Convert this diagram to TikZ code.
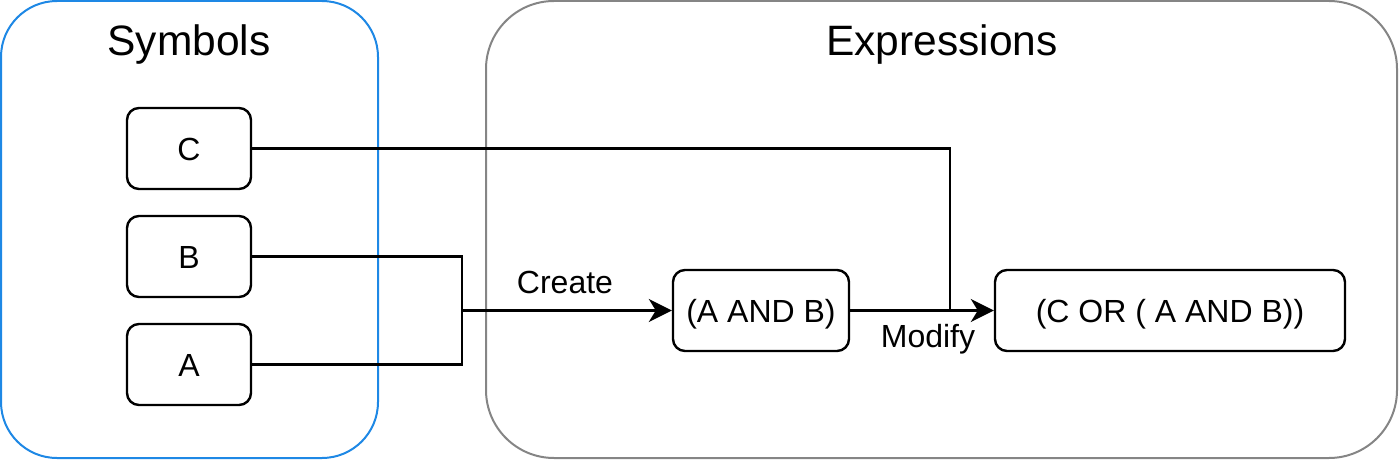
\documentclass[tikz,border=0pt]{standalone}
\usepackage{fontspec}
\setmainfont{Liberation Sans}
\usetikzlibrary{arrows.meta}
\definecolor{symblue}{HTML}{1E88E5}
\definecolor{exgray}{HTML}{858585}
\tikzset{
  container/.style={draw, line width=2pt, rounded corners=#1, inner sep=0pt},
  itembox/.style={draw=black, line width=2.4pt, rounded corners=12pt, minimum height=81pt,
    inner sep=0pt, text height=23pt, text depth=0pt, font=\fontsize{32}{38}\selectfont},
  titletext/.style={anchor=base, inner sep=0pt, font=\fontsize{42.5}{48}\selectfont},
  edgelabel/.style={anchor=base, inner sep=0pt, font=\fontsize{32}{38}\selectfont},
  conn/.style={line width=2.2pt, draw=black},
  arr/.style={conn, -{Stealth[length=23pt, width=23pt, inset=7pt]}}
}
\begin{document}
\begin{tikzpicture}[x=1pt, y=-1pt]
\useasboundingbox (0,0) rectangle (1400,460);
% containers
\node[container=56pt, draw=symblue, minimum width=377pt, minimum height=457pt] (sym) at (189.5,229.5) {};
\node[container=68pt, draw=exgray, minimum width=911pt, minimum height=457pt] (expr) at (941.5,229.5) {};
\node[titletext] (symtitle) at (189,56) {Symbols};
\node[titletext] (exprtitle) at (942,56) {Expressions};
% symbol boxes
\node[itembox, minimum width=124pt] (C) at (189,148.5) {C};
\node[itembox, minimum width=124pt] (B) at (189,256.5) {B};
\node[itembox, minimum width=124pt] (A) at (189,364.5) {A};
% expression boxes
\node[itembox, minimum width=176pt] (AB) at (761,310.5) {(A AND B)};
\node[itembox, minimum width=350pt] (COR) at (1170,310.5) {(C OR ( A AND B))};
% connectors
\coordinate (j) at (462,310.5);
\coordinate (m) at (950,310.5);
\draw[conn] (B.east) -| (j);
\draw[conn] (A.east) -| (j);
\draw[arr] (j) -- (AB.west);
\draw[arr] (AB.east) -- (COR.west);
\draw[conn] (C.east) -| (m);
\node[edgelabel] (create) at (565,293) {Create};
\node[edgelabel] (modify) at (928,347) {Modify};
\end{tikzpicture}
\end{document}
